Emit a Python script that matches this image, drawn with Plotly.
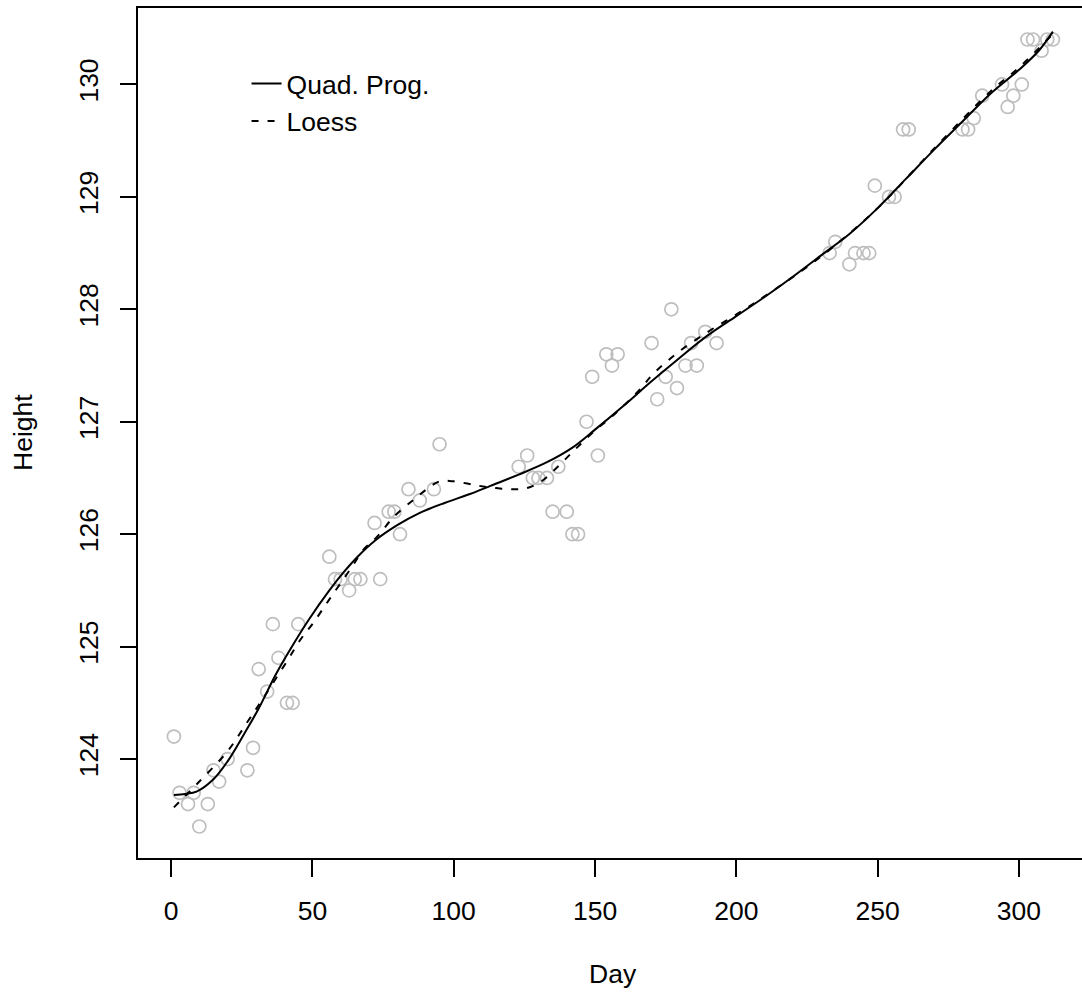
import plotly.graph_objects as go

# Observations
days = [1, 3, 6, 8, 10, 13, 15, 17, 20, 27, 29, 31, 34, 36, 38, 41, 43, 45,
        56, 58, 60, 63, 65, 67, 72, 74, 77, 79, 81, 84, 88, 93, 95,
        123, 126, 128, 130, 133, 135, 137, 140, 142, 144, 147, 149, 151, 154, 156, 158,
        170, 172, 175, 177, 179, 182, 184, 186, 189, 193,
        233, 235, 240, 242, 245, 247, 249, 254, 256, 259, 261,
        280, 282, 284, 287, 294, 296, 298, 301, 303, 305, 308, 310, 312]
heights = [124.2, 123.7, 123.6, 123.7, 123.4, 123.6, 123.9, 123.8, 124.0,
           123.9, 124.1, 124.8, 124.6, 125.2, 124.9, 124.5, 124.5, 125.2,
           125.8, 125.6, 125.6, 125.5, 125.6, 125.6,
           126.1, 125.6, 126.2, 126.2, 126.0, 126.4, 126.3, 126.4, 126.8,
           126.6, 126.7, 126.5, 126.5, 126.5, 126.2, 126.6, 126.2, 126.0, 126.0,
           127.0, 127.4, 126.7, 127.6, 127.5, 127.6,
           127.7, 127.2, 127.4, 128.0, 127.3, 127.5, 127.7, 127.5, 127.8, 127.7,
           128.5, 128.6, 128.4, 128.5, 128.5, 128.5, 129.1, 129.0, 129.0, 129.6, 129.6,
           129.6, 129.6, 129.7, 129.9, 130.0, 129.8, 129.9, 130.0, 130.4, 130.4, 130.3, 130.4, 130.4]

# Quadratic programming fit (solid)
qp_day = [1, 5, 9, 15, 20, 26, 31, 37, 43, 49, 56, 61, 66, 72, 80, 88, 97, 106, 113,
          123, 133, 142, 150, 160, 170, 180, 190, 200, 210, 220, 230, 240, 250, 260,
          270, 280, 290, 300, 307, 312]
qp_h = [123.68, 123.69, 123.71, 123.82, 123.98, 124.23, 124.45, 124.75, 125.01, 125.25,
        125.50, 125.66, 125.80, 125.94, 126.08, 126.19, 126.28, 126.36, 126.43,
        126.53, 126.64, 126.77, 126.93, 127.14, 127.36, 127.57, 127.77, 127.94, 128.11,
        128.29, 128.48, 128.67, 128.90, 129.16, 129.42, 129.67, 129.92, 130.13, 130.30, 130.47]

# Loess fit (dashed)
lo_day = [1, 10, 20, 27, 31, 41, 46, 50, 56, 64, 68, 73, 79, 86, 91, 95, 100, 109, 115,
          121, 126, 131, 136, 142, 149, 157, 166, 170, 179, 190, 201, 212, 230, 250, 270,
          290, 300, 312]
lo_h = [123.57, 123.80, 124.07, 124.33, 124.48, 124.87, 125.07, 125.20, 125.42, 125.71,
        125.86, 125.98, 126.16, 126.31, 126.41, 126.47, 126.47, 126.43, 126.41,
        126.40, 126.41, 126.47, 126.58, 126.73, 126.90, 127.07, 127.29, 127.41, 127.61,
        127.80, 127.97, 128.15, 128.47, 128.90, 129.43, 129.94, 130.15, 130.45]

x_ticks = [0, 50, 100, 150, 200, 250, 300]
y_ticks = [124, 125, 126, 127, 128, 129, 130]

FONT = "Liberation Sans, Arial, Helvetica, sans-serif"
FS = 26.5

fig = go.Figure()
fig.add_trace(go.Scatter(
    x=days, y=heights, mode="markers", showlegend=False,
    marker=dict(symbol="circle-open", size=13, color="#BEBEBE",
                line=dict(width=1.7, color="#BEBEBE")),
    hoverinfo="skip"))
fig.add_trace(go.Scatter(
    x=qp_day, y=qp_h, mode="lines", name="Quad. Prog.",
    line=dict(color="black", width=2, shape="spline", smoothing=1.0)))
fig.add_trace(go.Scatter(
    x=lo_day, y=lo_h, mode="lines", name="Loess",
    line=dict(color="black", width=2, dash="7px,9px", shape="spline", smoothing=1.0)))

fig.update_layout(
    width=1082, height=996,
    margin=dict(l=138, r=0, t=8, b=138),
    paper_bgcolor="white", plot_bgcolor="white",
    font=dict(family=FONT, size=FS, color="black"),
    showlegend=True,
    legend=dict(x=0.115, y=0.939, xanchor="left", yanchor="top",
                bgcolor="rgba(0,0,0,0)", borderwidth=0,
                font=dict(family=FONT, size=FS, color="black"),
                tracegroupgap=0),
    xaxis=dict(range=[-11.7, 322.3], tickvals=x_ticks, ticktext=[str(v) for v in x_ticks],
               showgrid=False, zeroline=False, showline=True, linecolor="black",
               linewidth=2, mirror=True, ticks="outside", ticklen=17, tickwidth=1.5,
               tickcolor="black", ticklabelstandoff=11,
               tickfont=dict(family=FONT, size=FS, color="black")),
    yaxis=dict(range=[123.12, 130.68], tickvals=y_ticks, ticktext=[str(v) for v in y_ticks],
               showgrid=False, zeroline=False, showline=True, linecolor="black",
               linewidth=2, mirror=False, ticks="outside", ticklen=16, tickwidth=1.5,
               tickcolor="black", tickangle=-90, ticklabelstandoff=11,
               tickfont=dict(family=FONT, size=FS, color="black")),
    annotations=[
        dict(text="Day", xref="paper", yref="paper", x=0.5, y=0, xshift=3, yshift=-116,
             xanchor="center", yanchor="middle", showarrow=False,
             font=dict(family=FONT, size=FS, color="black")),
        dict(text="Height", xref="paper", yref="paper", x=0, y=0.5, xshift=-115,
             xanchor="center", yanchor="middle", textangle=-90, showarrow=False,
             font=dict(family=FONT, size=FS, color="black")),
    ],
)

fig.write_html("out.html")
